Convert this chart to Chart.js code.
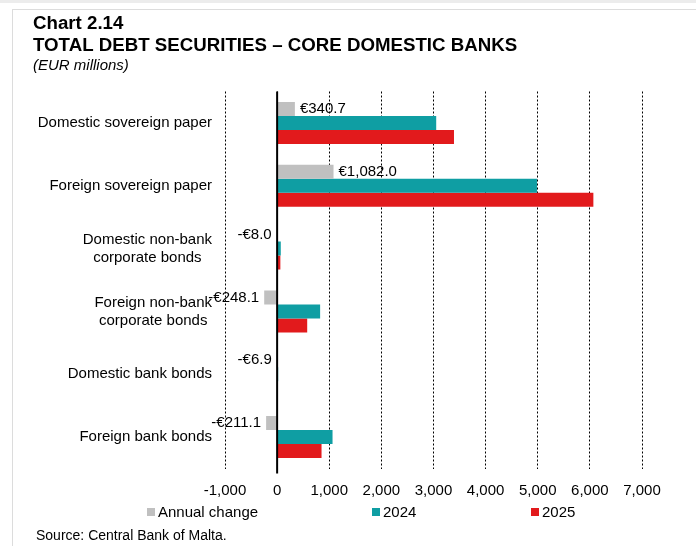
<!DOCTYPE html>
<html>
<head>
<meta charset="utf-8">
<script src="https://cdn.jsdelivr.net/npm/chart.js@4.4.1/dist/chart.umd.min.js"></script>
<style>
  html, body { margin: 0; padding: 0; background: #fff; }
  body { width: 696px; height: 546px; position: relative; overflow: hidden;
         font-family: 'Liberation Sans', Arial, Helvetica, sans-serif; color: #000; }
  #topline { position: absolute; left: 0; top: 0; width: 696px; height: 3px; background: #ececec; }
  #frame { position: absolute; left: 12px; top: 9px; width: 800px; height: 700px;
           border: 1px solid #dcdcdc; box-sizing: border-box; }
  #c { position: absolute; left: 0; top: 0; }
  .lg { position: absolute; font-size: 15px; line-height: 18px; top: 503px; white-space: nowrap; }
  .bx { position: absolute; width: 8px; height: 8px; top: 508px; }
  #source { position: absolute; left: 36px; top: 527px; font-size: 14px; line-height: 16px; white-space: nowrap; }
</style>
</head>
<body>
<div id="topline"></div>
<div id="frame"></div>
<canvas id="c" width="696" height="546"></canvas>
<div class="bx" style="left:147px;background:#c0c0c0"></div><div class="lg" style="left:158px">Annual change</div>
<div class="bx" style="left:372px;background:#0f9ea3"></div><div class="lg" style="left:383px">2024</div>
<div class="bx" style="left:531px;background:#e21a1c"></div><div class="lg" style="left:542px">2025</div>
<div id="source">Source: Central Bank of Malta.</div>
<script>
// ---- data ----
const categories = [
  "Domestic sovereign paper",
  "Foreign sovereign paper",
  ["Domestic non-bank", "corporate bonds"],
  ["Foreign non-bank", "corporate bonds"],
  "Domestic bank bonds",
  "Foreign bank bonds"
];
const seriesNames = ["Annual change", "2024", "2025"];
const annualChange = [340.7, 1082.0, -8.0, -248.1, -6.9, -211.1];
const values2024 = [3052, 4985, 70, 825, 20, 1063];
const values2025 = [3393, 6067, 62, 577, 13, 852];
const xTicks = [-1000, 0, 1000, 2000, 3000, 4000, 5000, 6000, 7000];

const FONT = "'Liberation Sans', Arial, Helvetica, sans-serif";
Chart.defaults.font.family = FONT;
Chart.defaults.color = '#000';

function fmtChange(v) {
  const s = Math.abs(v).toLocaleString('en-US', { minimumFractionDigits: 1, maximumFractionDigits: 1 });
  return (v < 0 ? '-' : '') + '\u20AC' + s;
}

const yLabelPlugin = {
  id: 'yLabels',
  afterDraw(chart) {
    const ys = chart.scales.y, ctx = chart.ctx;
    ctx.save();
    ctx.font = '15px ' + FONT;
    ctx.fillStyle = '#000';
    ctx.textBaseline = 'middle';
    ctx.textAlign = 'center';
    const right = chart.chartArea.left - 13;
    const lh = 18;
    categories.forEach((lab, i) => {
      const lines = Array.isArray(lab) ? lab : [lab];
      const w = Math.max(...lines.map(l => ctx.measureText(l).width));
      const cx = right - w / 2;
      const cy = ys.getPixelForValue(i);
      lines.forEach((l, j) => ctx.fillText(l, cx, cy + (j - (lines.length - 1) / 2) * lh));
    });
    ctx.restore();
  }
};

const zeroAndLabelsPlugin = {
  id: 'zeroLabels',
  afterDatasetsDraw(chart) {
    const ctx = chart.ctx, xs = chart.scales.x, ca = chart.chartArea;
    const x0 = xs.getPixelForValue(0);
    ctx.save();
    ctx.strokeStyle = '#000';
    ctx.lineWidth = 2;
    ctx.beginPath();
    ctx.moveTo(x0, ca.top);
    ctx.lineTo(x0, ca.bottom + 5);
    ctx.stroke();
    const meta = chart.getDatasetMeta(0);
    ctx.font = '15px ' + FONT;
    ctx.fillStyle = '#000';
    ctx.textBaseline = 'middle';
    meta.data.forEach((el, i) => {
      const v = annualChange[i];
      if (v >= 0) { ctx.textAlign = 'left'; ctx.fillText(fmtChange(v), el.x + 5, el.y); }
      else { ctx.textAlign = 'right'; ctx.fillText(fmtChange(v), el.x - 5, el.y); }
    });
    ctx.restore();
  }
};

new Chart(document.getElementById('c'), {
  type: 'bar',
  data: {
    labels: categories,
    datasets: [
      { label: seriesNames[0], data: annualChange, backgroundColor: '#c0c0c0' },
      { label: seriesNames[1], data: values2024, backgroundColor: '#0f9ea3' },
      { label: seriesNames[2], data: values2025, backgroundColor: '#e21a1c' }
    ]
  },
  options: {
    indexAxis: 'y',
    responsive: false,
    animation: false,
    devicePixelRatio: 1,
    events: [],
    datasets: { bar: { barPercentage: 1.0, categoryPercentage: 0.669, borderWidth: 0 } },
    layout: { padding: { left: 33, right: 54, top: 13, bottom: 33.5 } },
    plugins: {
      legend: { display: false },
      tooltip: { enabled: false },
      title: {
        display: true,
        align: 'start',
        text: ["Chart 2.14", "TOTAL DEBT SECURITIES \u2013 CORE DOMESTIC BANKS"],
        color: '#000',
        font: { size: 18.7, weight: 'bold', lineHeight: '22px' },
        padding: { top: 0, bottom: 0 }
      },
      subtitle: {
        display: true,
        align: 'start',
        text: "(EUR millions)",
        color: '#000',
        font: { size: 15, style: 'italic', lineHeight: '18px' },
        padding: { top: 0, bottom: 16.5 }
      }
    },
    scales: {
      x: {
        type: 'linear',
        min: xTicks[0],
        max: xTicks[xTicks.length - 1],
        afterBuildTicks(scale) { scale.ticks = xTicks.map(v => ({ value: v })); },
        ticks: {
          font: { size: 15 },
          color: '#000',
          padding: 13,
          callback: v => Number(v).toLocaleString('en-US')
        },
        grid: { color: '#000', lineWidth: 1, drawTicks: false },
        border: { display: false, dash: [2, 2] }
      },
      y: {
        type: 'category',
        ticks: { display: false },
        grid: { display: false, drawTicks: false },
        border: { display: false },
        afterFit(scale) { scale.width = 192; }
      }
    }
  },
  plugins: [yLabelPlugin, zeroAndLabelsPlugin]
});
</script>
</body>
</html>
